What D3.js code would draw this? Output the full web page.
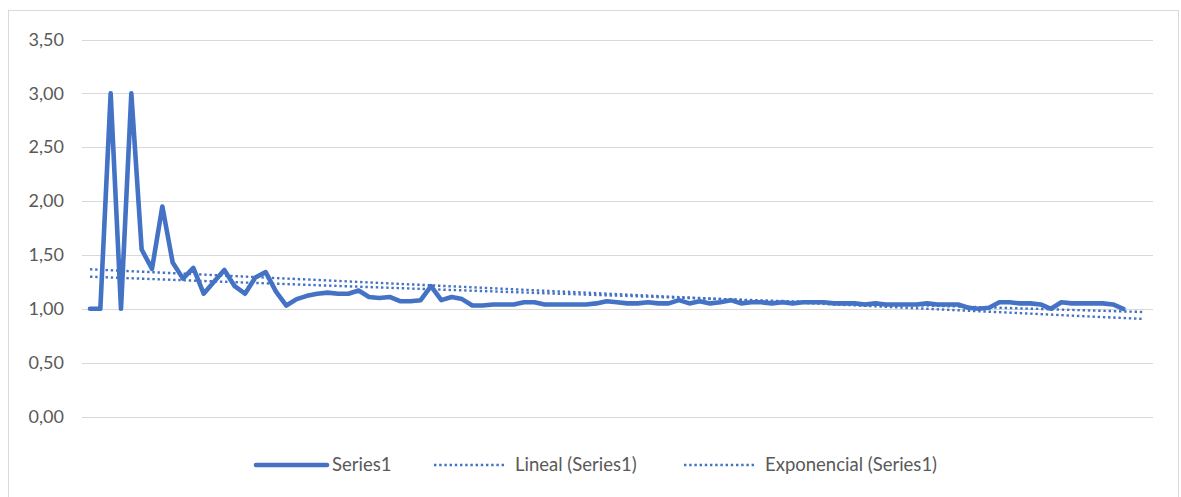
<!DOCTYPE html>
<html>
<head>
<meta charset="utf-8">
<script src="https://cdn.jsdelivr.net/npm/d3@7/dist/d3.min.js"></script>
<style>
  html, body { margin: 0; padding: 0; background: #fff; }
  svg { display: block; }
  text { font-family: Lato, "Liberation Sans", Arial, sans-serif; fill: #595959; }
</style>
</head>
<body>
<svg id="chart" width="1181" height="497"></svg>
<script>
// ---- data ----
const seriesName = "Series1";
const series1 = [
  1.00, 1.00, 3.00, 1.00, 3.00, 1.55, 1.37, 1.95, 1.43, 1.28,
  1.38, 1.14, 1.25, 1.36, 1.21, 1.14, 1.29, 1.34, 1.16, 1.03,
  1.09, 1.12, 1.14, 1.15, 1.14, 1.14, 1.17, 1.11, 1.10, 1.11,
  1.07, 1.07, 1.08, 1.21, 1.08, 1.11, 1.09, 1.03, 1.03, 1.04,
  1.04, 1.04, 1.06, 1.06, 1.04, 1.04, 1.04, 1.04, 1.04, 1.05,
  1.07, 1.06, 1.05, 1.05, 1.06, 1.05, 1.05, 1.08, 1.05, 1.07,
  1.05, 1.06, 1.08, 1.05, 1.06, 1.06, 1.05, 1.06, 1.05, 1.06,
  1.06, 1.06, 1.05, 1.05, 1.05, 1.04, 1.05, 1.04, 1.04, 1.04,
  1.04, 1.05, 1.04, 1.04, 1.04, 1.01, 1.00, 1.01, 1.06, 1.06,
  1.05, 1.05, 1.04, 1.00, 1.06, 1.05, 1.05, 1.05, 1.05, 1.04,
  1.00
];
const forecastForward = 2;                 // trendline forward periods
const linealEnds = [1.367, 0.905];         // linear trend value at first / last x
const exponencialEnds = [1.298, 0.97];     // exponential trend value at first / last x
const yTicks = [0, 0.5, 1, 1.5, 2, 2.5, 3, 3.5];
const legendLabels = ["Series1", "Lineal (Series1)", "Exponencial (Series1)"];

// ---- layout ----
const plot = { left: 82, right: 1153, top: 39.5, bottom: 416.5 };
const color = "#4472C4";

const svg = d3.select("#chart");
svg.append("rect").attr("x", 8.5).attr("y", 10.5).attr("width", 1170).attr("height", 490)
  .attr("fill", "#fff").attr("stroke", "#d9d9d9");

const lastIdx = series1.length - 1 + forecastForward;
const x = d3.scaleLinear().domain([0, lastIdx]).range([90, 1144]);
const y = d3.scaleLinear().domain([0, 3.5]).range([plot.bottom, plot.top]);

// gridlines
svg.append("g").selectAll("line").data(yTicks).join("line")
  .attr("x1", plot.left).attr("x2", plot.right)
  .attr("y1", d => Math.round(y(d)) + 0.5).attr("y2", d => Math.round(y(d)) + 0.5)
  .attr("stroke", "#d9d9d9").attr("stroke-width", 1);

// y axis labels
const fmt = d => d3.format(".2f")(d).replace(".", ",");
const yAxis = d3.axisLeft(y).tickValues(yTicks).tickFormat(fmt).tickSize(0).tickPadding(0);
const gy = svg.append("g").attr("transform", `translate(${64},0)`).call(yAxis);
gy.select(".domain").remove();
gy.selectAll("text").style("font-size", "18px").attr("fill", "#595959")
  .style("font-family", "Lato, 'Liberation Sans', Arial, sans-serif");

// trend lines
const dotStyle = sel => sel.attr("fill", "none").attr("stroke", color)
  .attr("stroke-width", 2.4).attr("stroke-dasharray", "2.4 2.8");

const linPts = [[0, linealEnds[0]], [lastIdx, linealEnds[1]]];
svg.append("path").datum(linPts)
  .attr("d", d3.line().x(d => x(d[0])).y(d => y(d[1])))
  .call(dotStyle);

const k = Math.log(exponencialEnds[1] / exponencialEnds[0]) / lastIdx;
const expPts = d3.range(0, lastIdx + 0.001, 0.5).map(i => [i, exponencialEnds[0] * Math.exp(k * i)]);
svg.append("path").datum(expPts)
  .attr("d", d3.line().x(d => x(d[0])).y(d => y(d[1])))
  .call(dotStyle);

// series line
svg.append("path").datum(series1)
  .attr("d", d3.line().x((d, i) => x(i)).y(d => y(d)))
  .attr("fill", "none").attr("stroke", color).attr("stroke-width", 4.6)
  .attr("stroke-linejoin", "round").attr("stroke-linecap", "round");

// legend
const ly = 465;
const lg = svg.append("g");
const items = [
  { x1: 256, x2: 327, tx: 332, dotted: false },
  { x1: 434, x2: 504, tx: 515, dotted: true },
  { x1: 684, x2: 754, tx: 765, dotted: true }
];
items.forEach((it, i) => {
  const ln = lg.append("line").attr("x1", it.x1).attr("x2", it.x2).attr("y1", ly).attr("y2", ly);
  if (it.dotted) ln.call(dotStyle);
  else ln.attr("stroke", color).attr("stroke-width", 4.6).attr("stroke-linecap", "round");
  lg.append("text").attr("x", it.tx).attr("y", ly).attr("dy", "0.35em")
    .style("font-size", "18.5px").text(legendLabels[i]);
});
</script>
</body>
</html>
